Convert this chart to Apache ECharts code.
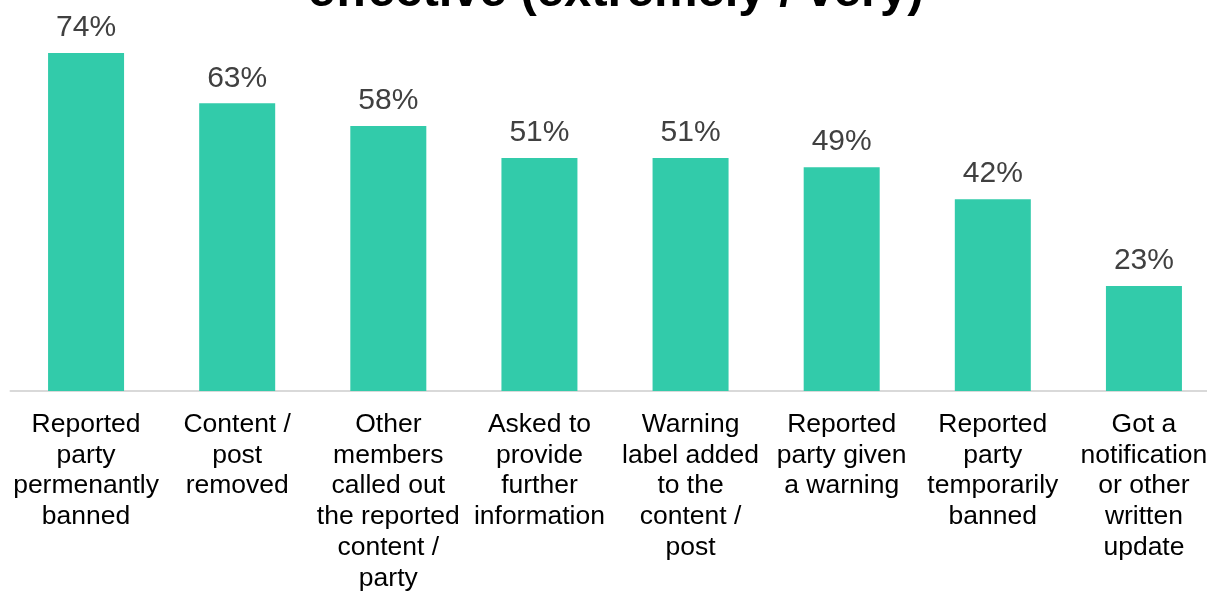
<!DOCTYPE html>
<html>
<head>
<meta charset="utf-8">
<script src="https://cdn.jsdelivr.net/npm/echarts@6/dist/echarts.min.js"></script>
<style>
  html, body { margin: 0; padding: 0; background: #ffffff; }
  #chart { width: 1207px; height: 593px; }
</style>
</head>
<body>
<div id="chart"></div>
<script>
// Share of respondents rating each outcome as effective (extremely / very)
const titleText = 'effective (extremely / very)';

const categories = [
  'Reported\nparty\npermenantly\nbanned',
  'Content /\npost\nremoved',
  'Other\nmembers\ncalled out\nthe reported\ncontent /\nparty',
  'Asked to\nprovide\nfurther\ninformation',
  'Warning\nlabel added\nto the\ncontent /\npost',
  'Reported\nparty given\na warning',
  'Reported\nparty\ntemporarily\nbanned',
  'Got a\nnotification\nor other\nwritten\nupdate'
];

const effectivePct = [74, 63, 58, 51, 51, 49, 42, 23];

const chart = echarts.init(document.getElementById('chart'), null, { renderer: 'canvas' });

chart.setOption({
  backgroundColor: '#ffffff',
  animation: false,
  title: {
    text: titleText,
    left: 303,
    top: -37,
    textStyle: {
      fontFamily: 'Liberation Sans, Arial, sans-serif',
      fontSize: 49,
      fontWeight: 'bold',
      color: '#000000'
    }
  },
  grid: {
    left: 10.5,
    width: 1209,
    top: 25.6,
    bottom: 202,
    outerBoundsMode: 'none'
  },
  xAxis: {
    type: 'category',
    data: categories,
    axisLine: { lineStyle: { color: '#d9d9d9', width: 2 } },
    axisTick: { show: false },
    axisLabel: {
      interval: 0,
      margin: 18,
      fontFamily: 'Liberation Sans, Arial, sans-serif',
      fontSize: 26.5,
      lineHeight: 30.8,
      color: '#000000'
    }
  },
  yAxis: {
    type: 'value',
    min: 0,
    max: 80,
    show: false,
    splitLine: { show: false }
  },
  series: [{
    type: 'bar',
    data: effectivePct,
    barWidth: 76,
    itemStyle: { color: '#32cbaa' },
    label: {
      show: true,
      position: 'top',
      distance: 10,
      formatter: '{c}%',
      fontFamily: 'Liberation Sans, Arial, sans-serif',
      fontSize: 30,
      color: '#404040'
    }
  }]
});
</script>
</body>
</html>
